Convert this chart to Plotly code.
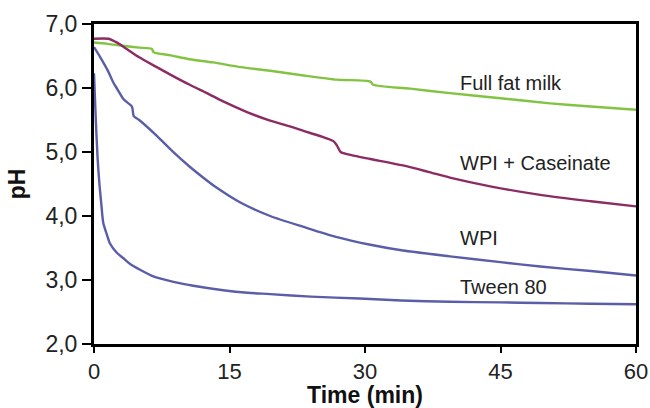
import plotly.graph_objects as go

# ---- data ----
milk_t = [0, 1.5, 3.2, 5, 6.4, 6.6, 8.5, 10.6, 13.2, 16, 19.5, 23, 26.9, 30.6, 30.9, 35, 39.4, 45, 50.5, 55, 60]
milk_ph = [6.71, 6.69, 6.66, 6.63, 6.61, 6.56, 6.51, 6.45, 6.40, 6.33, 6.27, 6.20, 6.13, 6.10, 6.05, 5.99, 5.92, 5.84, 5.76, 5.71, 5.66]

cas_t = [0, 1.6, 2.4, 3.2, 5, 6.9, 8.7, 10.6, 12.5, 14.3, 17, 19.5, 21.7, 23.2, 25, 26.5, 26.9, 27.3, 28.5, 30.6, 34.2, 37, 39.4, 44, 49.4, 55, 60]
cas_ph = [6.77, 6.77, 6.72, 6.65, 6.48, 6.33, 6.19, 6.05, 5.92, 5.79, 5.62, 5.49, 5.40, 5.33, 5.25, 5.17, 5.10, 5.00, 4.95, 4.89, 4.79, 4.69, 4.60, 4.46, 4.33, 4.23, 4.15]

wpi_t = [0, 0.7, 1.5, 2.2, 2.5, 3.3, 4.2, 4.4, 5, 6.9, 8.7, 10.6, 12, 13.6, 16.2, 19.5, 23.2, 26.9, 30.6, 34.2, 39.4, 45, 49.4, 55, 60]
wpi_ph = [6.64, 6.48, 6.28, 6.07, 6.00, 5.82, 5.71, 5.56, 5.50, 5.26, 5.01, 4.77, 4.61, 4.44, 4.21, 4.00, 3.83, 3.67, 3.55, 3.46, 3.37, 3.28, 3.21, 3.14, 3.07]

tw_t = [0, 0.2, 0.4, 0.6, 0.8, 1.03, 1.4, 1.77, 2.5, 3.25, 4, 5.1, 6.5, 8.8, 11, 14.3, 17, 19.5, 24, 29.4, 34, 39.4, 45, 49.4, 55, 60]
tw_ph = [6.23, 5.50, 4.90, 4.50, 4.20, 3.89, 3.72, 3.57, 3.43, 3.34, 3.25, 3.16, 3.06, 2.97, 2.91, 2.84, 2.80, 2.78, 2.74, 2.71, 2.68, 2.66, 2.65, 2.64, 2.63, 2.62]

labels = ["Full fat milk", "WPI + Caseinate", "WPI", "Tween 80"]
label_t = [40.3, 40.3, 40.3, 40.3]
label_ph = [6.08, 4.83, 3.66, 2.89]

x_ticks = [0, 15, 30, 45, 60]
y_ticks = [2, 3, 4, 5, 6, 7]

GREEN = "#82c341"
PURPLE = "#8b2c62"
BLUE = "#5a5ea8"
FONT = "Arial, Liberation Sans, sans-serif"

fig = go.Figure()
for t, ph, col in [(milk_t, milk_ph, GREEN), (cas_t, cas_ph, PURPLE),
                   (wpi_t, wpi_ph, BLUE), (tw_t, tw_ph, BLUE)]:
    fig.add_trace(go.Scatter(x=t, y=ph, mode="lines",
                             line=dict(color=col, width=2.4, shape="spline", smoothing=0.7),
                             showlegend=False, hoverinfo="skip", cliponaxis=True))

for txt, xt, yp in zip(labels, label_t, label_ph):
    fig.add_annotation(x=xt, y=yp, text=txt, showarrow=False, xanchor="left",
                       yanchor="middle", font=dict(family=FONT, size=20, color="#222"))

fig.update_layout(
    width=650, height=408,
    margin=dict(l=94, r=14, t=24, b=64, autoexpand=False),
    paper_bgcolor="white", plot_bgcolor="white",
    separators=",.",
    font=dict(family=FONT, color="#222"),
)
fig.update_xaxes(range=[0, 60], tickvals=x_ticks, showgrid=False, zeroline=False,
                 showline=True, linecolor="black", linewidth=3, mirror=True,
                 ticks="outside", ticklen=6, tickwidth=2, tickcolor="black",
                 ticklabeloverflow="allow",
                 tickfont=dict(family=FONT, size=22, color="#222"), automargin=False,
                 title=dict(text="<b>Time (min)</b>", font=dict(family=FONT, size=23, color="#111"), standoff=2))
fig.update_yaxes(range=[2, 7], tickvals=y_ticks, tickformat=".1f", showgrid=False, zeroline=False,
                 showline=True, linecolor="black", linewidth=3, mirror=True,
                 ticks="outside", ticklen=9, tickwidth=2, tickcolor="black",
                 ticklabeloverflow="allow",
                 tickfont=dict(family=FONT, size=23, color="#222"), automargin=False,
                 title=dict(text="<b>pH</b>", font=dict(family=FONT, size=23, color="#111"), standoff=14))

# remove the default 8px page margin so the 650x408 figure fills the window exactly
fig.write_html("out.html", config={"displayModeBar": False},
               post_script="document.body.style.margin='0';document.body.style.overflow='hidden';")
